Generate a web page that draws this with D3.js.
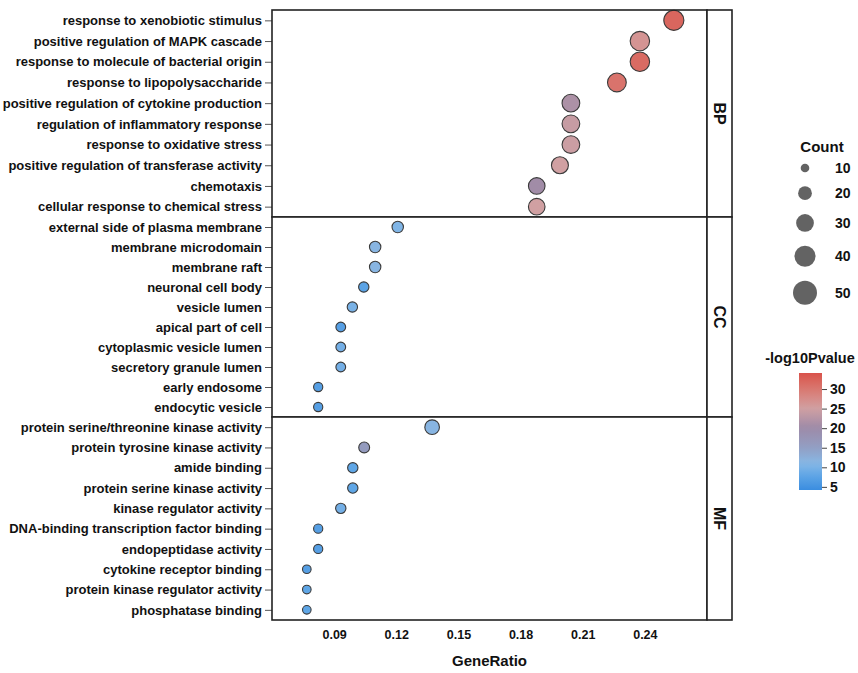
<!DOCTYPE html>
<html>
<head>
<meta charset="utf-8">
<script src="https://cdn.jsdelivr.net/npm/d3@7"></script>
<style>
  body { margin: 0; background: #fff; }
  text { font-family: "Liberation Sans", Arial, sans-serif; font-weight: bold; fill: #111; }
</style>
</head>
<body>
<div id="chart"></div>
<script>
// values, one small array per thing
const ontologies = ["BP", "CC", "MF"];

const bpTerms = ["response to xenobiotic stimulus", "positive regulation of MAPK cascade",
  "response to molecule of bacterial origin", "response to lipopolysaccharide",
  "positive regulation of cytokine production", "regulation of inflammatory response",
  "response to oxidative stress", "positive regulation of transferase activity",
  "chemotaxis", "cellular response to chemical stress"];
const bpRatio = [0.254, 0.2376, 0.2376, 0.2265, 0.2043, 0.2043, 0.2043, 0.199, 0.1878, 0.1878];
const bpCount = [37, 35, 35, 33, 30, 30, 30, 28, 27, 27];
const bpLogP = [32, 26.5, 31.5, 30.5, 21.5, 24, 24.5, 25, 20.5, 25];

const ccTerms = ["external side of plasma membrane", "membrane microdomain", "membrane raft",
  "neuronal cell body", "vesicle lumen", "apical part of cell", "cytoplasmic vesicle lumen",
  "secretory granule lumen", "early endosome", "endocytic vesicle"];
const ccRatio = [0.1207, 0.1098, 0.1098, 0.1043, 0.0988, 0.0932, 0.0932, 0.0932, 0.0823, 0.0823];
const ccCount = [15, 15, 15, 13, 13, 12, 12, 12, 11, 11];
const ccLogP = [10.5, 11.5, 11.5, 7.5, 10, 7, 9.5, 9.5, 7, 7];

const mfTerms = ["protein serine/threonine kinase activity", "protein tyrosine kinase activity",
  "amide binding", "protein serine kinase activity", "kinase regulator activity",
  "DNA-binding transcription factor binding", "endopeptidase activity",
  "cytokine receptor binding", "protein kinase regulator activity", "phosphatase binding"];
const mfRatio = [0.1373, 0.1045, 0.099, 0.099, 0.0932, 0.0823, 0.0823, 0.0768, 0.0768, 0.0768];
const mfCount = [22, 14, 13, 13, 13, 11, 11, 10, 10, 10];
const mfLogP = [11.5, 16, 8, 8, 9.5, 7, 7, 7, 8, 8];

const xTicks = [0.09, 0.12, 0.15, 0.18, 0.21, 0.24];
const countBreaks = [10, 20, 30, 40, 50];
const pBreaks = [5, 10, 15, 20, 25, 30];

// colour ramp stops as seen on the colour bar
const pStops = [4.2, 8, 11, 15, 20, 25, 29, 34.1];
const pColors = ["#3a8de0", "#5fa6e6", "#86b8e6", "#929fc4", "#9c8aa8", "#d0a0a2", "#d8807a", "#d9524b"];

const w = 858, h = 673;
const left = 272, right = 707, stripW = 25;
const panelEdges = [10, 217, 417, 620];

const panels = [
  { name: ontologies[0], terms: bpTerms, ratio: bpRatio, count: bpCount, logp: bpLogP },
  { name: ontologies[1], terms: ccTerms, ratio: ccRatio, count: ccCount, logp: ccLogP },
  { name: ontologies[2], terms: mfTerms, ratio: mfRatio, count: mfCount, logp: mfLogP }
];

const xScale = d3.scaleLinear().domain([0.060, 0.270]).range([left, right]);
const rScale = d3.scaleSqrt().domain([10, 50]).range([4.3, 12]);
const colorScale = d3.scaleLinear()
  .domain(pStops)
  .range(pColors)
  .interpolate(d3.interpolateLab);

const svg = d3.select("#chart").append("svg")
  .attr("width", w)
  .attr("height", h);

panels.forEach((p, i) => {
  const top = panelEdges[i], bottom = panelEdges[i + 1];
  const yScale = d3.scalePoint().domain(p.terms).range([top, bottom]).padding(0.5);

  svg.append("rect")
    .attr("x", left).attr("y", top)
    .attr("width", right - left).attr("height", bottom - top)
    .attr("fill", "#fff");

  const yAxis = d3.axisLeft(yScale).tickSize(7).tickPadding(3);
  const gy = svg.append("g")
    .attr("transform", "translate(" + left + ",0)")
    .call(yAxis);
  gy.select(".domain").remove();
  gy.selectAll(".tick line").attr("stroke", "#555");
  gy.selectAll(".tick text").style("font-size", "13px").attr("fill", "#111");

  const rows = p.terms.map((t, j) => ({ term: t, ratio: p.ratio[j], count: p.count[j], logp: p.logp[j] }));
  svg.append("g").selectAll("circle")
    .data(rows)
    .enter()
    .append("circle")
    .attr("cx", d => xScale(d.ratio))
    .attr("cy", d => yScale(d.term))
    .attr("r", d => rScale(d.count))
    .attr("fill", d => colorScale(d.logp))
    .attr("stroke", "#3a3a3a")
    .attr("stroke-width", 1.1);

  svg.append("rect")
    .attr("x", left).attr("y", top)
    .attr("width", right - left).attr("height", bottom - top)
    .attr("fill", "none")
    .attr("stroke", "#222")
    .attr("stroke-width", 1.6);

  // facet strip
  svg.append("rect")
    .attr("x", right).attr("y", top)
    .attr("width", stripW).attr("height", bottom - top)
    .attr("fill", "#fff")
    .attr("stroke", "#222")
    .attr("stroke-width", 1.6);
  svg.append("text")
    .attr("transform", "translate(" + (right + stripW / 2) + "," + ((top + bottom) / 2) + ") rotate(90)")
    .attr("text-anchor", "middle")
    .attr("dy", "0.35em")
    .style("font-size", "16px")
    .text(p.name);
});

// x axis, labels only
const xAxis = d3.axisBottom(xScale).tickValues(xTicks).tickFormat(d3.format(".2f")).tickSize(0).tickPadding(10);
const gx = svg.append("g")
  .attr("transform", "translate(0," + panelEdges[3] + ")")
  .call(xAxis);
gx.select(".domain").remove();
gx.selectAll(".tick text").style("font-size", "12.5px").attr("fill", "#111");

svg.append("text")
  .attr("x", (left + right) / 2)
  .attr("y", 666)
  .attr("text-anchor", "middle")
  .style("font-size", "15px")
  .text("GeneRatio");

// size legend
svg.append("text")
  .attr("x", 822).attr("y", 152)
  .attr("text-anchor", "middle")
  .style("font-size", "15px")
  .text("Count");

let cy = 168;
countBreaks.forEach((c, i) => {
  if (i > 0) cy += rScale(countBreaks[i - 1]) + rScale(c) + 14;
  svg.append("circle")
    .attr("cx", 805).attr("cy", cy)
    .attr("r", rScale(c))
    .attr("fill", "#636363");
  svg.append("text")
    .attr("x", 835).attr("y", cy)
    .attr("dy", "0.35em")
    .style("font-size", "14px")
    .text(c);
});

// colour bar
svg.append("text")
  .attr("x", 810).attr("y", 363)
  .attr("text-anchor", "middle")
  .style("font-size", "14.5px")
  .text("-log10Pvalue");

const barTop = 373, barBottom = 490, barX = 799, barW = 23;
const barScale = d3.scaleLinear().domain([pStops[0], pStops[pStops.length - 1]]).range([barBottom, barTop]);

const grad = svg.append("defs").append("linearGradient")
  .attr("id", "pgrad")
  .attr("x1", "0").attr("y1", "1").attr("x2", "0").attr("y2", "0");
d3.range(0, 1.0001, 0.05).forEach(t => {
  const v = barScale.domain()[0] + t * (barScale.domain()[1] - barScale.domain()[0]);
  grad.append("stop").attr("offset", t).attr("stop-color", colorScale(v));
});

svg.append("rect")
  .attr("x", barX).attr("y", barTop)
  .attr("width", barW).attr("height", barBottom - barTop)
  .attr("fill", "url(#pgrad)");

const barAxis = d3.axisRight(barScale).tickValues(pBreaks).tickSize(5).tickPadding(3);
const gb = svg.append("g")
  .attr("transform", "translate(" + (barX + barW) + ",0)")
  .call(barAxis);
gb.select(".domain").remove();
gb.selectAll(".tick line").attr("stroke", "#444");
gb.selectAll(".tick text").style("font-size", "14px").attr("fill", "#111");
</script>
</body>
</html>
